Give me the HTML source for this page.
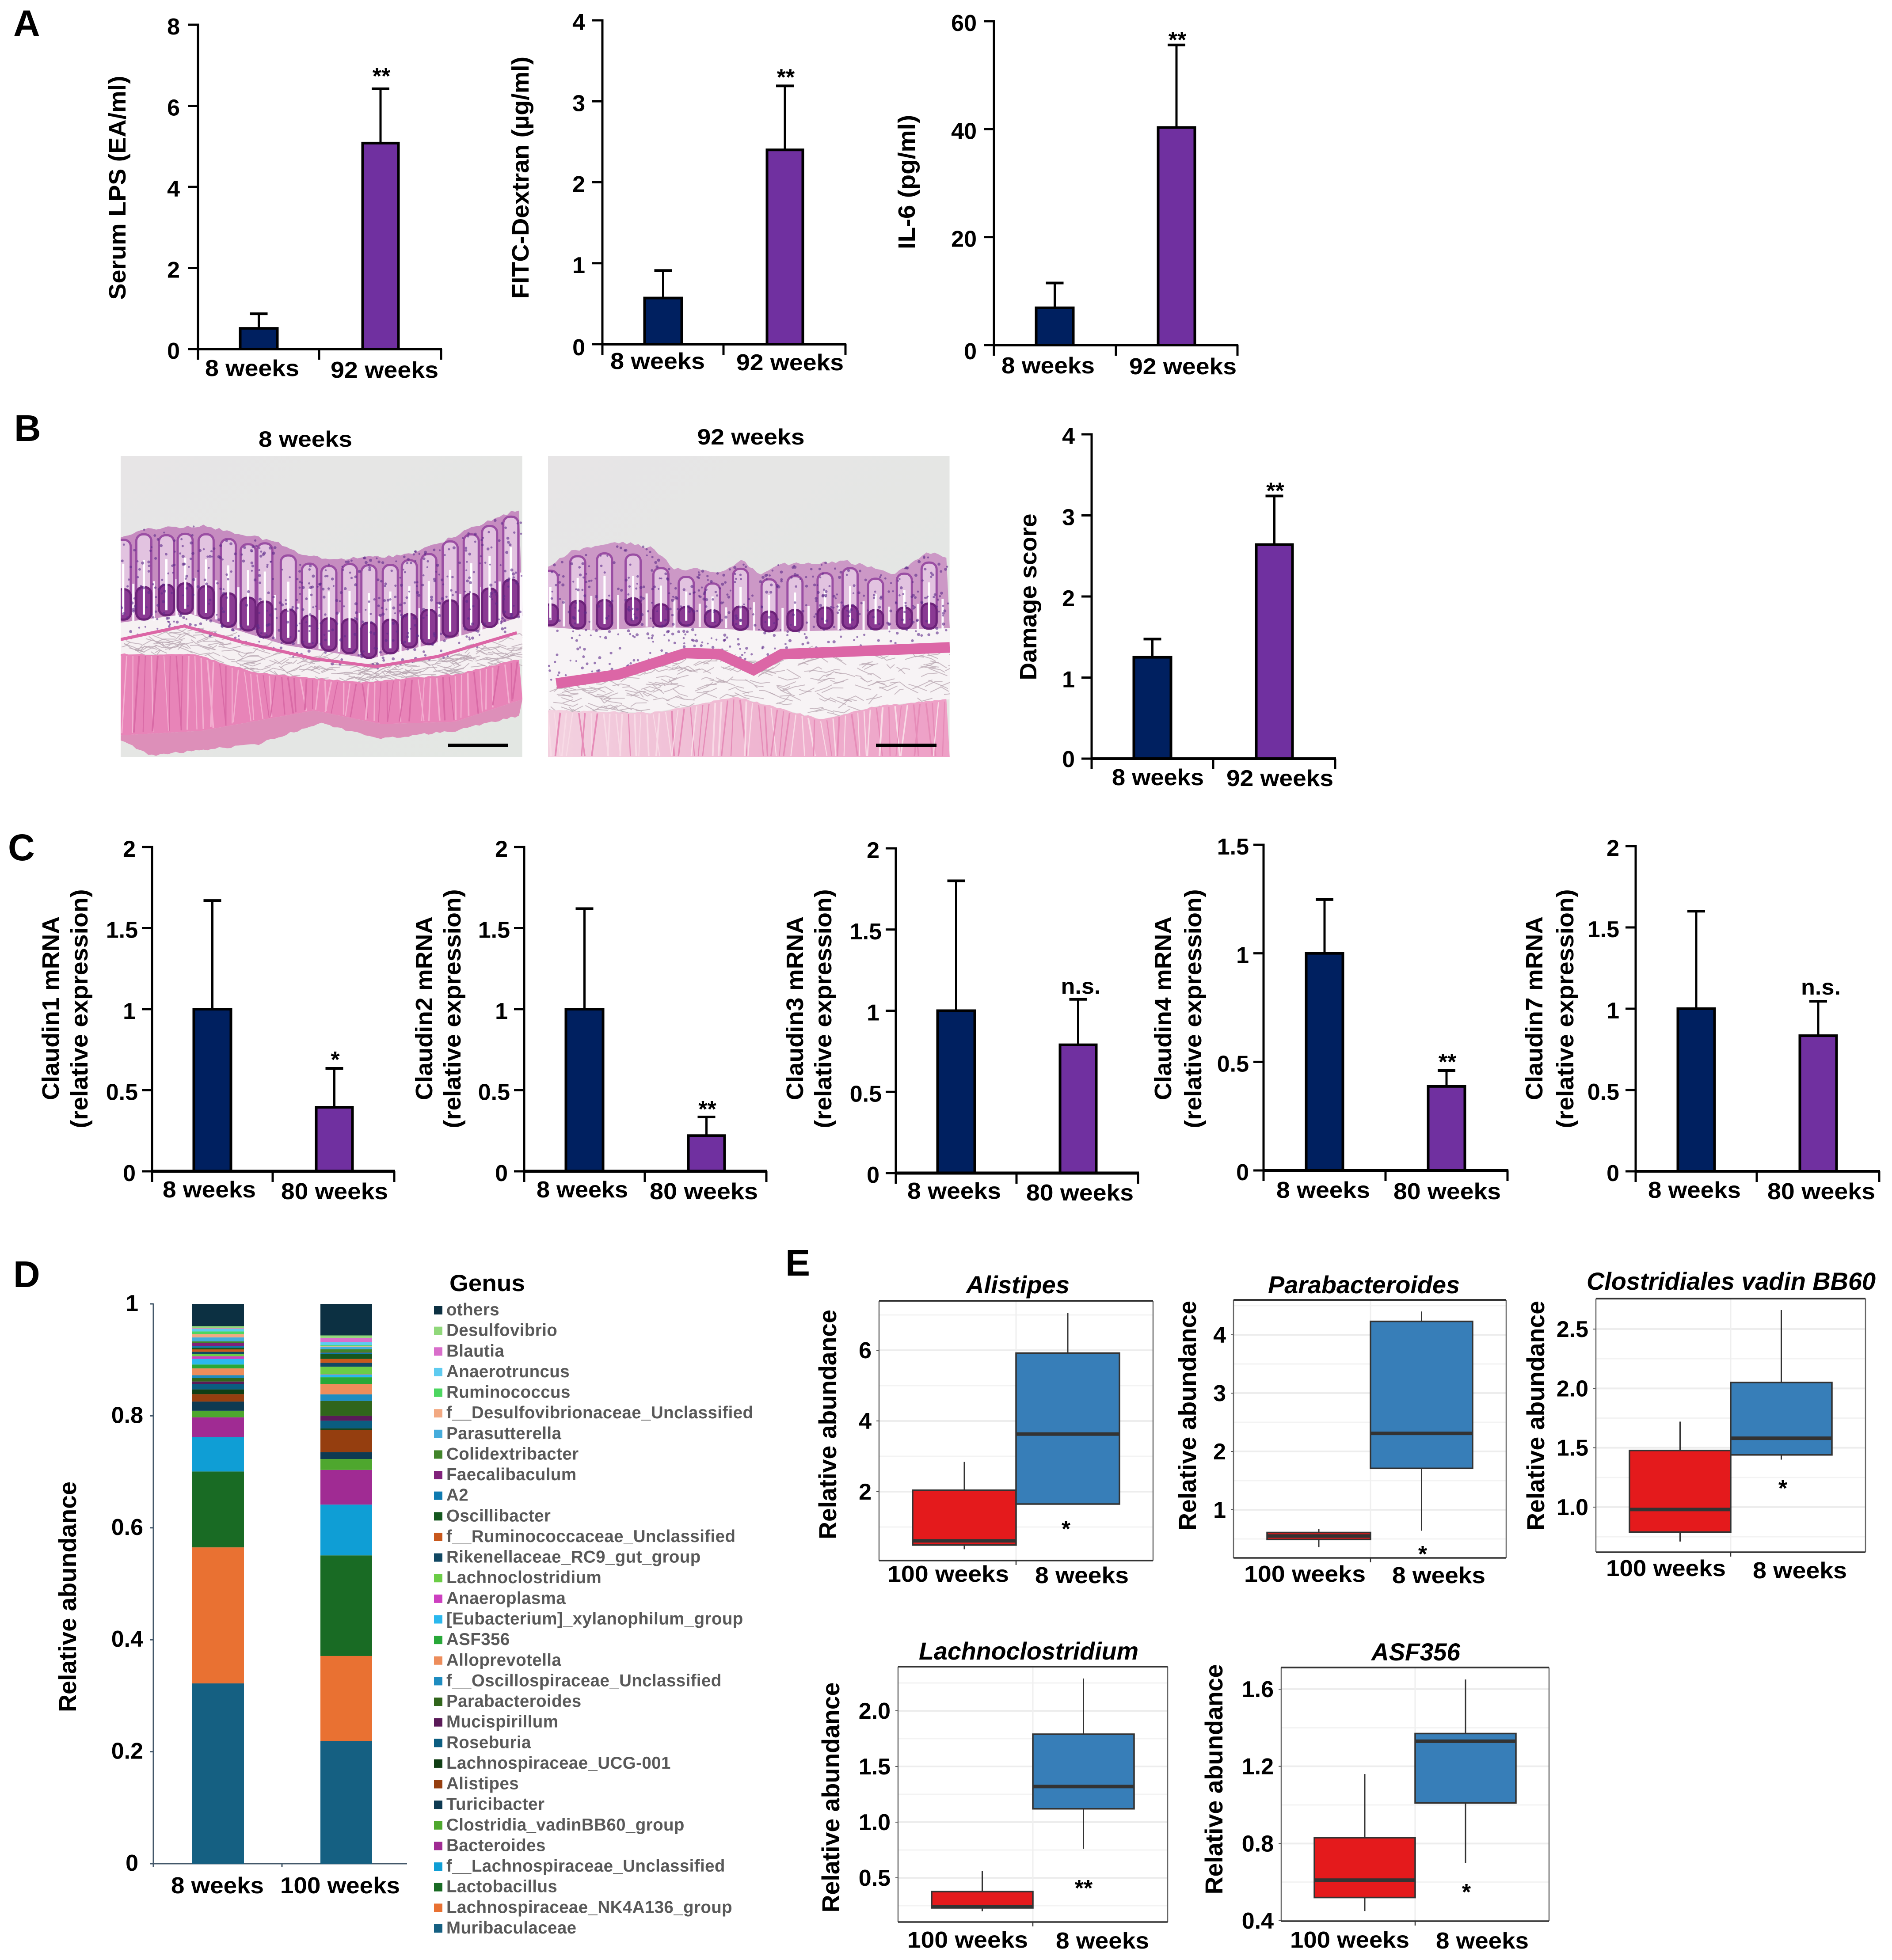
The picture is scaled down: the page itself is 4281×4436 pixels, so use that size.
<!DOCTYPE html>
<html lang="en">
<head>
<meta charset="utf-8">
<title>Aged mouse gut barrier figure</title>
<style>
html,body{margin:0;padding:0;background:#fff}
svg{display:block}
text{font-family:"Liberation Sans",sans-serif;font-weight:700;fill:#000}
</style>
</head>
<body>
<svg id="figure" xmlns="http://www.w3.org/2000/svg" width="4281" height="4436" viewBox="0 0 4281 4436">
<rect width="4281" height="4436" fill="#fff"/>
<defs>
<clipPath id="clipL"><rect x="273" y="1032" width="909" height="681"/></clipPath>
<clipPath id="clipR"><rect x="1240" y="1032" width="909" height="681"/></clipPath>
<linearGradient id="bgL" x1="0" y1="0" x2="1" y2="1"><stop offset="0" stop-color="#e7e5e6"/><stop offset="1" stop-color="#e3e7e3"/></linearGradient>
<linearGradient id="musR" x1="0" y1="0" x2="1" y2="0"><stop offset="0" stop-color="#f3d2e0"/><stop offset="0.55" stop-color="#efb4d0"/><stop offset="1" stop-color="#ee9fc6"/></linearGradient>
</defs>
</svg>
<script>
/* ---------- chart data ---------- */
const weeks92 = ['8 weeks','92 weeks'];
const weeks80 = ['8 weeks','80 weeks'];
const lpsValues = [0.51,5.08];
const lpsErrors = [0.87,6.42];
const lpsTicks = [0,2,4,6,8];
const fitcValues = [0.57,2.40];
const fitcErrors = [0.91,3.19];
const fitcTicks = [0,1,2,3,4];
const il6Values = [6.9,40.3];
const il6Errors = [11.5,55.6];
const il6Ticks = [0,20,40,60];
const damageValues = [1.25,2.64];
const damageErrors = [1.475,3.24];
const damageTicks = [0,1,2,3,4];
const claudinTicks = [0,0.5,1,1.5,2];
const claudin4Ticks = [0,0.5,1,1.5];
const claudin1Values = [1,0.395];
const claudin1Errors = [1.67,0.635];
const claudin2Values = [1,0.22];
const claudin2Errors = [1.62,0.335];
const claudin3Values = [1,0.79];
const claudin3Errors = [1.80,1.07];
const claudin4Values = [1,0.387];
const claudin4Errors = [1.248,0.46];
const claudin7Values = [1,0.834];
const claudin7Errors = [1.60,1.046];

const genusNames = ['Muribaculaceae','Lachnospiraceae_NK4A136_group','Lactobacillus','f__Lachnospiraceae_Unclassified','Bacteroides','Clostridia_vadinBB60_group','Turicibacter','Alistipes','Lachnospiraceae_UCG-001','Roseburia','Mucispirillum','Parabacteroides','f__Oscillospiraceae_Unclassified','Alloprevotella','ASF356','[Eubacterium]_xylanophilum_group','Anaeroplasma','Lachnoclostridium','Rikenellaceae_RC9_gut_group','f__Ruminococcaceae_Unclassified','Oscillibacter','A2','Faecalibaculum','Colidextribacter','Parasutterella','f__Desulfovibrionaceae_Unclassified','Ruminococcus','Anaerotruncus','Blautia','Desulfovibrio','others'];
const genusColors = ['#156082','#E97132','#196B24','#0F9ED5','#A02B93','#4EA72E','#0E3A52','#953E0F','#103E14','#0B5D80','#5A1A58','#30651B','#1E8CC0','#ED8D5B','#28A838','#2BB8EE','#CD3FC0','#6BCD46','#114863','#C8581C','#14571E','#0F7AB0','#80217A','#41842A','#45ACDC','#F2A982','#4CD660','#5ECBF0','#D96ECB','#90D87A','#0C3042'];
const abundance8Weeks = [0.322,0.243,0.1356,0.0614,0.0353,0.0118,0.0164,0.0132,0.0085,0.0099,0.0042,0.0061,0.0051,0.0122,0.007,0.0101,0.0046,0.0036,0.0045,0.0042,0.0032,0.0025,0.0061,0.0026,0.0071,0.0059,0.0046,0.0044,0.0012,0.0039,0.0398];
const abundance100Weeks = [0.2193,0.1517,0.1797,0.0907,0.062,0.0195,0.0124,0.0398,0.0024,0.0138,0.0088,0.0265,0.0118,0.0187,0.0118,0.0045,0.0006,0.0138,0.007,0.007,0.0088,0.0023,0.0001,0.006,0.0045,0.0006,0.002,0.0056,0.0076,0.0043,0.0564];
const stackTicks = [0,0.2,0.4,0.6,0.8,1];
const stackTickLabels = ['0','0.2','0.4','0.6','0.8','1'];
const stackCategories = ['8 weeks','100 weeks'];

const boxCategories = ['100 weeks','8 weeks'];
const alistipes100 = [0.37,0.49,0.61,2.04,2.84];
const alistipes8 = [1.65,1.65,3.63,5.92,7.05];
const alistipesTicks = [2,4,6];
const parabacteroides100 = [0.36,0.49,0.55,0.61,0.67];
const parabacteroides8 = [0.64,1.71,2.31,4.23,4.40];
const parabacteroidesTicks = [1,2,3,4];
const vadin100 = [0.71,0.79,0.98,1.477,1.72];
const vadin8 = [1.40,1.44,1.58,2.05,2.66];
const vadinTicks = [1.0,1.5,2.0,2.5];
const lachno100 = [0.2,0.23,0.24,0.376,0.56];
const lachno8 = [0.76,1.12,1.32,1.79,2.29];
const lachnoTicks = [0.5,1.0,1.5,2.0];
const asf100 = [0.45,0.52,0.61,0.83,1.16];
const asf8 = [0.70,1.01,1.33,1.37,1.65];
const asfTicks = [0.4,0.8,1.2,1.6];

/* ---------- drawing helpers ---------- */
const NS='http://www.w3.org/2000/svg';
const root=document.getElementById('figure');
function mk(tag,parent,name,attrs){
  const el=document.createElementNS(NS,tag);
  
  
  for(const k in attrs) el.setAttribute(k,attrs[k]);
  parent.appendChild(el);
  return el;
}
function grp(parent,name){return mk('g',parent,name,{});}
function line(p,name,x1,y1,x2,y2,stroke,w){return mk('line',p,name,{x1,y1,x2,y2,stroke,'stroke-width':w});}
function rect(p,name,x,y,w,h,fill){return mk('rect',p,name,{x,y,width:w,height:h,fill});}
function txt(p,name,x,y,s,size,o){
  o=o||{};
  const a={x,y,'font-size':size,'text-anchor':o.anchor||'start'};
  if(o.len){a.textLength=o.len;a.lengthAdjust='spacingAndGlyphs';}
  if(o.rot)a.transform='rotate(-90 '+x+' '+y+')';
  if(o.italic)a['font-style']='italic';
  let st='';
  if(o.fill)st+='fill:'+o.fill+';';
  if(o.spacing)st+='letter-spacing:'+o.spacing+'px;';
  if(st)a.style=st;
  const el=mk('text',p,name,a);
  el.textContent=s;
  return el;
}
function linear(v0,y0,v1,y1){const k=(y1-y0)/(v1-v0);return v=>y0+(v-v0)*k;}

/* ---------- panel letters ---------- */
const letters=grp(root,'panel-labels');
txt(letters,'panel-label-a',30,82,'A',84);
txt(letters,'panel-label-b',32,998,'B',84);
txt(letters,'panel-label-c',18,1947,'C',84);
txt(letters,'panel-label-d',30,2913,'D',84);
txt(letters,'panel-label-e',1777,2887,'E',84);

/* ---------- bar chart ---------- */
function barChart(c){
  const g=grp(root,c.name);
  const y=linear(0,c.y0,c.yMax,c.top);
  const sw=c.axisW||5;
  c.ticks.forEach(t=>{
    const ty=y(t);
    line(g,'y-tick',c.axisX-23,ty,c.axisX,ty,'#000',sw);
    const dx=(c.decDx&&t%1!==0)?c.decDx:0;
    const dy=t===0&&c.zeroDy?c.zeroDy:0;
    txt(g,'y-tick-label',c.axisX-(c.labelGap||37)+dx,ty+22+dy,String(t),52,{anchor:'end'});
  });
  line(g,'y-axis',c.axisX,c.top-2.5,c.axisX,c.y0+24,'#000',sw);
  const colors=['#002060','#7030A0'];
  c.values.forEach((v,i)=>{
    const [x1,x2]=c.boxes[i];
    const cx=(x1+x2)/2;
    const ey=y(c.errors[i]);
    line(g,'error-bar',cx,ey,cx,y(v),'#000',5);
    line(g,'error-cap',cx-20,ey,cx+20,ey,'#000',6);
    mk('rect',g,'bar-'+c.cats[i].replace(' ','-'),{x:x1+2.5,y:y(v),width:x2-x1-5,height:c.y0-y(v),fill:colors[i],stroke:'#000','stroke-width':6});
    if(c.sig&&c.sig[i]){
      if(c.sig[i]==='n.s.') txt(g,'not-significant-label',cx+6,ey-10+(c.sigDy||0),'n.s.',50,{anchor:'middle',len:90});
      else txt(g,'significance-stars',cx+2,ey-5+(c.sigDy||0),c.sig[i],52,{anchor:'middle'});
    }
  });
  line(g,'x-axis',c.axisX,c.y0,c.right+2,c.y0,'#000',c.xAxisW||6);
  [c.mid,c.right].forEach(x=>line(g,'x-tick',x,c.y0,x,c.y0+24,'#000',sw));
  c.cats.forEach((s,i)=>txt(g,'x-category-label',c.catX[i][0],c.catY[i],s,52,{len:c.catX[i][1]-c.catX[i][0]}));
  c.titles.forEach(t=>txt(g,'y-axis-title',t.x,t.y,t.s,t.size||54,{anchor:'middle',rot:true,len:t.len}));
}
function off(axis,arr){return [[axis+arr[0],axis+arr[1]],[axis+arr[2],axis+arr[3]]];}

barChart({name:'serum-lps-chart',axisX:448,top:56,y0:790,right:998,mid:722,yMax:8,ticks:lpsTicks,values:lpsValues,errors:lpsErrors,cats:weeks92,
  boxes:[[541,630],[818,904]],catX:[[464,677],[748,992]],catY:[851,855],sig:[null,'**'],sigDy:-6,labelGap:41,
  titles:[{x:284,y:425,s:'Serum LPS (EA/ml)',len:507}]});
barChart({name:'fitc-dextran-chart',axisX:1363,top:46,y0:779,right:1913,mid:1637,yMax:4,ticks:fitcTicks,values:fitcValues,errors:fitcErrors,cats:weeks92,
  boxes:[[1456,1545],[1733,1819]],catX:off(1363,[18,232,303,546]),catY:[835,838],sig:[null,'**'],sigDy:3,labelGap:39,zeroDy:3,
  titles:[{x:1196,y:402,s:'FITC-Dextran (µg/ml)',len:548}]});
barChart({name:'il6-chart',axisX:2249,top:48,y0:781,right:2800,mid:2525,yMax:60,ticks:il6Ticks,values:il6Values,errors:il6Errors,cats:weeks92,
  boxes:[[2342,2431],[2618,2706]],catX:off(2249,[17,228,306,549]),catY:[845,847],sig:[null,'**'],sigDy:11,labelGap:39,zeroDy:10,
  titles:[{x:2070,y:412,s:'IL-6 (pg/ml)',len:304}]});
barChart({name:'damage-score-chart',axisX:2470,top:983,y0:1717,right:3021,mid:2745,yMax:4,ticks:damageTicks,values:damageValues,errors:damageErrors,cats:weeks92,
  boxes:[[2563,2652],[2840,2927]],catX:off(2470,[46,254,305,547]),catY:[1777,1779],sig:[null,'**'],sigDy:11,labelGap:38,zeroDy:-3,
  titles:[{x:2345,y:1351,s:'Damage score',len:377}]});

function claudinTitles(n,x1,x2){return [
  {x:x1,y:2282,s:'Claudin'+n+' mRNA',len:416},
  {x:x2,y:2283,s:'(relative expression)',len:541}];}
barChart({name:'claudin1-chart',axisX:344,top:1917,y0:2651,right:892,mid:617,yMax:2,ticks:claudinTicks,values:claudin1Values,errors:claudin1Errors,cats:weeks80,
  boxes:[[436,525],[713,800]],catX:[[368,579],[636,878]],catY:[2710,2714],sig:[null,'*'],sigDy:3,xAxisW:7,decDx:5,
  titles:claudinTitles(1,133,198)});
barChart({name:'claudin2-chart',axisX:1186,top:1917,y0:2651,right:1734,mid:1459,yMax:2,ticks:claudinTicks,values:claudin2Values,errors:claudin2Errors,cats:weeks80,
  boxes:[[1278,1367],[1555,1642]],catX:[[1214,1421],[1470,1715]],catY:[2710,2714],sig:[null,'**'],sigDy:5,xAxisW:7,decDx:5,
  titles:claudinTitles(2,978,1042)});
barChart({name:'claudin3-chart',axisX:2027,top:1920,y0:2655,right:2575,mid:2300,yMax:2,ticks:claudinTicks,values:claudin3Values,errors:claudin3Errors,cats:weeks80,
  boxes:[[2119,2208],[2396,2483]],catX:off(2027,[26,238,295,538]),catY:[2713,2717],sig:[null,'n.s.'],sigDy:-3,xAxisW:7,decDx:5,
  titles:claudinTitles(3,1817,1881)});
barChart({name:'claudin4-chart',axisX:2859,top:1912,y0:2649,right:3411,mid:3135,yMax:1.5,ticks:claudin4Ticks,values:claudin4Values,errors:claudin4Errors,cats:weeks80,
  boxes:[[2953,3041],[3229,3317]],catX:[[2888,3100],[3153,3396]],catY:[2711,2714],sig:[null,'**'],sigDy:3,labelGap:33,
  titles:claudinTitles(4,2650,2718)});
barChart({name:'claudin7-chart',axisX:3701,top:1915,y0:2651,right:4252,mid:3975,yMax:2,ticks:claudinTicks,values:claudin7Values,errors:claudin7Errors,cats:weeks80,
  boxes:[[3794,3882],[4070,4158]],catX:[[3729,3939],[3999,4243]],catY:[2711,2714],sig:[null,'n.s.'],sigDy:-5,
  titles:claudinTitles(7,3490,3560)});

/* ---------- stacked bars (panel D) ---------- */
(function(){
  const g=grp(root,'genus-stacked-chart');
  const y=linear(0,4218,1,2951);
  const ax='#44586a';
  line(g,'y-axis',347,2950,347,4226,ax,3);
  line(g,'x-axis',345,4218,921,4218,ax,3);
  line(g,'x-tick',638,4218,638,4226,ax,3);
  stackTicks.forEach((t,i)=>{
    line(g,'y-tick',339,y(t),347,y(t),ax,3);
    txt(g,'y-tick-label',i===0||i===5?313:324,y(t)+16,stackTickLabels[i],52,{anchor:'end'});
  });
  [[435,552,abundance8Weeks,'8-weeks'],[725,842,abundance100Weeks,'100-weeks']].forEach(b=>{
    const sg=grp(g,'stack-'+b[3]);
    let cum=0;
    b[2].forEach((v,i)=>{
      const top=y(cum+v), bot=y(cum);
      rect(sg,'segment-'+genusNames[i],b[0],top,b[1]-b[0],Math.max(bot-top,0.6),genusColors[i]);
      cum+=v;
    });
  });
  txt(g,'x-category-label',387,4285,stackCategories[0],52,{len:210});
  txt(g,'x-category-label',634,4285,stackCategories[1],52,{len:271});
  txt(g,'y-axis-title',172,3614,'Relative abundance',56,{anchor:'middle',rot:true,len:522});
  const lg=grp(root,'genus-legend');
  txt(lg,'legend-title',1017,2922,'Genus',53,{len:171});
  const ly=linear(0,4364,30,2965);
  genusNames.forEach((n,i)=>{
    const e=grp(lg,'legend-entry');
    const cy=ly(i);
    rect(e,'legend-swatch',982,cy-9,19,19,genusColors[i]);
    txt(e,'legend-label',1010,cy+12,n,38.5,{fill:'#595959',spacing:0.4});
  });
})();

/* ---------- box plots (panel E) ---------- */
function boxPlot(c){
  const g=grp(root,c.name);
  const y=linear(c.ref[0],c.ref[1],c.ref[2],c.ref[3]);
  const step=c.ticks[1]-c.ticks[0];
  const bg=grp(g,'grid');
  for(let k=-6;k<20;k++){
    const v=c.ticks[0]+(k+0.5)*step, yy=y(v);
    if(yy>c.top+6&&yy<c.bottom-6) line(bg,'minor-gridline',c.left,yy,c.right,yy,'#f3f3f3',3);
  }
  c.ticks.forEach(t=>{
    const yy=y(t);
    if(yy<c.bottom-3) line(bg,'major-gridline',c.left,yy,c.right,yy,'#ededed',4);
    line(g,'y-tick',c.left-6,yy,c.left,yy,'#555',2);
    txt(g,'y-tick-label',c.left-17,yy+18,c.fixed?t.toFixed(c.fixed):String(t),52,{anchor:'end'});
  });
  line(bg,'vertical-gridline',c.mid,c.top,c.mid,c.bottom,'#efefef',3);
  [[c.data[0],c.x1,c.mid,'#E41A1C','box-100-weeks'],[c.data[1],c.mid,c.x2,'#377EB8','box-8-weeks']].forEach(b=>{
    const d=b[0], bx=grp(g,b[4]), cx=(b[1]+b[2])/2;
    line(bx,'whisker',cx,y(d[4]),cx,y(d[3]),'#333',3);
    line(bx,'whisker',cx,y(d[1]),cx,y(d[0]),'#333',3);
    mk('rect',bx,'interquartile-box',{x:b[1],y:y(d[3]),width:b[2]-b[1],height:y(d[1])-y(d[3]),fill:b[3],stroke:'#333','stroke-width':3.5});
    line(bx,'median-line',b[1],y(d[2]),b[2],y(d[2]),'#333',8);
  });
  line(g,'frame-left',c.left,c.top,c.left,c.bottom,'#666',2.5);
  line(g,'frame-right',c.right,c.top,c.right,c.bottom,'#666',2.5);
  line(g,'frame-top',c.left,c.top,c.right,c.top,'#333',4);
  line(g,'frame-bottom',c.left,c.bottom,c.right,c.bottom,'#333',3.5);
  line(g,'x-tick',c.mid,c.bottom,c.mid,c.bottom+10,'#333',2.5);
  txt(g,'chart-title',c.title[1],c.title[3],c.title[0],56,{italic:true,len:c.title[2]-c.title[1]});
  txt(g,'y-axis-title',c.yt[0],c.yt[1],'Relative abundance',56,{anchor:'middle',rot:true,len:c.yt[2]});
  txt(g,'x-category-label',c.catX[0][0],c.catY[0],boxCategories[0],52,{len:c.catX[0][1]-c.catX[0][0]});
  txt(g,'x-category-label',c.catX[1][0],c.catY[1],boxCategories[1],52,{len:c.catX[1][1]-c.catX[1][0]});
  txt(g,'significance-stars',c.star[0],c.star[1],c.star[2],52,{anchor:'middle'});
}
boxPlot({name:'alistipes-boxplot',left:1989,right:2609,top:2944,bottom:3532,x1:2065,mid:2299,x2:2533,ref:[2,3376,6,3056],ticks:alistipesTicks,data:[alistipes100,alistipes8],
  title:['Alistipes',2186,2420,2927],yt:[1892,3224,520],catX:[[2008,2283],[2342,2554]],catY:[3580,3583],star:[2412,3478,'*']});
boxPlot({name:'parabacteroides-boxplot',left:2791,right:3408,top:2942,bottom:3526,x1:2867,mid:3101,x2:3332,ref:[1,3417,4,3021],ticks:parabacteroidesTicks,data:[parabacteroides100,parabacteroides8],
  title:['Parabacteroides',2869,3303,2927],yt:[2706,3204,520],catX:[[2815,3090],[3150,3361]],catY:[3580,3583],star:[3219,3535,'*']});
boxPlot({name:'clostridiales-vadin-boxplot',left:3611,right:4221,top:2939,bottom:3513,x1:3687,mid:3916,x2:4145,ref:[1,3411,2.5,3008],ticks:vadinTicks,fixed:1,data:[vadin100,vadin8],
  title:['Clostridiales vadin BB60',3590,4244,2919],yt:[3494,3204,520],catX:[[3634,3905],[3966,4179]],catY:[3567,3572],star:[4034,3386,'*']});
boxPlot({name:'lachnoclostridium-boxplot',left:2032,right:2642,top:3772,bottom:4350,x1:2108,mid:2337,x2:2566,ref:[0.5,4250,2,3872],ticks:lachnoTicks,fixed:1,data:[lachno100,lachno8],
  title:['Lachnoclostridium',2079,2576,3756],yt:[1899,4068,521],catX:[[2053,2326],[2389,2600]],catY:[4408,4410],star:[2452,4291,'**']});
boxPlot({name:'asf356-boxplot',left:2899,right:3505,top:3774,bottom:4348,x1:2974,mid:3202,x2:3430,ref:[0.4,4347,1.6,3823],ticks:asfTicks,fixed:1,data:[asf100,asf8],
  title:['ASF356',3103,3304,3758],yt:[2766,4027,521],catX:[[2919,3189],[3249,3459]],catY:[4408,4410],star:[3318,4300,'*']});

/* ---------- histology micrographs (illustrative shapes, not chart data) ---------- */
(function(){
  const X=x=>200+x/0.784, Y=y=>950+y/1.96;
  const at=(pts,x)=>{
    for(let i=1;i<pts.length;i++) if(x<=pts[i][0]){const a=pts[i-1],b=pts[i];return a[1]+(b[1]-a[1])*(x-a[0])/(b[0]-a[0]);}
    return pts[pts.length-1][1];
  };
  let seed=12345;
  const rnd=()=>{seed=(seed*1103515245+12345)%2147483648;return seed/2147483648;};
  const band=(p,name,top,bot,fill)=>{
    const pts=top.concat(bot.slice().reverse()).map(q=>X(q[0]).toFixed(1)+','+Y(q[1]).toFixed(1)).join(' ');
    return mk('polygon',p,name,{points:pts,fill});
  };
  const jagged=(pts,x0,x1,amp)=>{
    const out=[];
    for(let x=x0;x<=x1;x+=7) out.push([x,at(pts,x)+(rnd()-0.5)*amp]);
    return out;
  };
  function micrograph(name,clip,x0,x1,s){
    const g=mk('g',root,name,{'clip-path':'url(#'+clip+')'});
    mk('rect',g,'image-background',{x:X(x0),y:1032,width:909,height:681,fill:'url(#bgL)'});
    band(g,'submucosa',s.crypt,s.musTop,s.subFill);
    for(let i=0;i<240;i++){
      const x=x0+rnd()*(x1-x0);
      const t=at(s.mm,x), b=at(s.musTop,x);
      if(b-t<10)continue;
      const yy=t+rnd()*(b-t);
      mk('path',g,'connective-fibre',{d:'M'+X(x).toFixed(1)+' '+Y(yy).toFixed(1)+' l'+(8+rnd()*20).toFixed(1)+' '+((rnd()-0.5)*24).toFixed(1)+' l'+(8+rnd()*20).toFixed(1)+' '+((rnd()-0.5)*24).toFixed(1),fill:'none',stroke:'#b5a3ae','stroke-width':2,'stroke-opacity':0.7});
    }
    band(g,'muscle-layer',jagged(s.musTop,x0,x1,8),s.musBot,s.musFill);
    if(s.outer) band(g,'serosa',s.musBot,jagged(s.outer,x0,x1,10),s.outerFill);
    for(let x=x0;x<=x1;x+=11){
      const t=at(s.musTop,x)+8,b=at(s.musBot,x)-8;
      line(g,'muscle-fibre',X(x),Y(t),X(x+(rnd()-0.5)*24),Y(b),rnd()>0.5?s.fibreA:s.fibreB,2+rnd()*2);
    }
    band(g,'mucosa',jagged(s.surface,x0,x1,14),s.crypt,s.mucFill);
    for(let x=x0+8;x<=x1;x+=s.step){
      const cx=x+(rnd()-0.5)*8;
      const t=at(s.surface,cx)+s.topPad+rnd()*30, b=at(s.crypt,cx)-(rnd()*14);
      if(b-t<60)continue;
      const mid=t+(b-t)*0.62;
      line(g,'crypt-gap',X(cx+s.step/2),Y(t+(b-t)*0.55),X(cx+s.step/2),Y(b+6),'#fbf6fb',5);
      mk('rect',g,'crypt',{x:X(cx)-17,y:Y(t),width:34,height:Y(b)-Y(t),rx:15,fill:'#e2c3e0',stroke:'#9a4ea3','stroke-width':5});
      mk('rect',g,'crypt-base',{x:X(cx)-17,y:Y(mid),width:34,height:Y(b)-Y(mid),rx:15,fill:'#8a3a93',stroke:'#6c2279','stroke-width':5});
      line(g,'crypt-lumen',X(cx),Y(t+(b-t)*0.3),X(cx),Y(b-22),'#fff',5);
    }
    for(let i=0;i<560;i++){
      const x=x0+rnd()*(x1-x0);
      const t=at(s.surface,x), b=at(s.mm,x)+14;
      mk('circle',g,'cell-nucleus',{cx:X(x).toFixed(1),cy:Y(t+rnd()*(b-t)).toFixed(1),r:2+rnd()*1.6,fill:'#5d2c8a','fill-opacity':0.6});
    }
    mk('polyline',g,'muscularis-mucosae',{points:s.mm.map(q=>X(q[0]).toFixed(1)+','+Y(q[1]).toFixed(1)).join(' '),fill:'none',stroke:'#dc66a6','stroke-width':s.mmW});
    return g;
  }
  micrograph('histology-8-weeks','clipL',57,770,{
    surface:[[57,520],[100,485],[130,480],[200,470],[260,500],[330,540],[380,600],[430,620],[500,610],[560,600],[620,550],[690,470],[770,390]],
    crypt:[[57,900],[180,860],[260,930],[350,1000],[500,1060],[600,1000],[700,930],[770,870]],
    mm:[[57,975],[170,915],[270,985],[400,1060],[510,1095],[620,1050],[760,945]],
    musTop:[[57,1040],[190,1040],[290,1120],[480,1165],[650,1130],[770,1060]],
    musBot:[[57,1400],[200,1380],[400,1290],[520,1350],[650,1340],[770,1240]],
    outer:[[57,1420],[110,1490],[220,1460],[300,1440],[410,1345],[520,1415],[650,1380],[770,1310]],
    subFill:'#f6f1f3',musFill:'#e884b8',outerFill:'#dd8fb9',fibreA:'#f3aed0',fibreB:'#d96aa6',mucFill:'#c68cc0',step:36,topPad:14,mmW:7});
  micrograph('histology-92-weeks','clipR',815,1528,{
    surface:[[815,650],[860,580],[945,540],[1000,570],[1040,660],[1090,665],[1120,680],[1160,625],[1195,690],[1225,640],[1290,640],[1340,625],[1400,660],[1425,690],[1490,590],[1528,610]],
    crypt:[[815,920],[900,935],[1000,920],[1100,925],[1220,940],[1528,925]],
    mm:[[830,1170],[940,1130],[1060,1035],[1120,1040],[1180,1110],[1230,1040],[1528,1010]],
    musTop:[[815,1290],[1000,1300],[1150,1230],[1300,1330],[1400,1270],[1528,1240]],
    musBot:[[815,1500],[1528,1500]],
    subFill:'#f7f3f5',musFill:'url(#musR)',fibreA:'#f8dbe6',fibreB:'#e68cb8',mucFill:'#cc98c6',step:48,topPad:24,mmW:24});
  const l=grp(root,'histology-annotations');
  rect(l,'scale-bar-8-weeks',1014,1683,136,8,'#000');
  rect(l,'scale-bar-92-weeks',1982,1683,137,8,'#000');
  txt(l,'histology-title-8-weeks',691,1011,'8 weeks',50,{anchor:'middle',len:212});
  txt(l,'histology-title-92-weeks',1699,1006,'92 weeks',50,{anchor:'middle',len:243});
})();
</script>
</body>
</html>
